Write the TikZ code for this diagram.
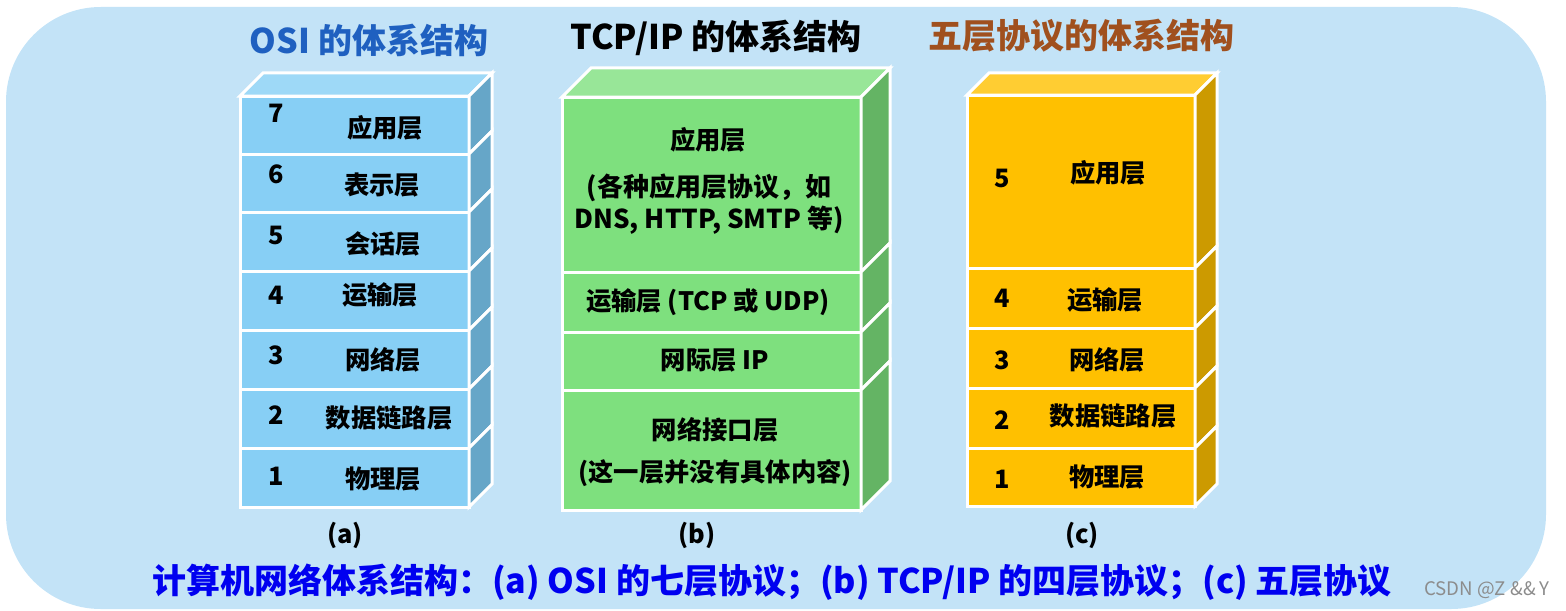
\documentclass[tikz,border=0pt]{standalone}
\usepackage{fontspec}
\newfontfamily\cjk{Noto Sans CJK SC}
\definecolor{bgblue}{RGB}{195,227,247}
\definecolor{osifront}{RGB}{135,207,245}
\definecolor{osiside}{RGB}{102,166,200}
\definecolor{ositop}{RGB}{158,217,247}
\definecolor{tcpfront}{RGB}{126,224,126}
\definecolor{tcpside}{RGB}{100,180,100}
\definecolor{tcptop}{RGB}{152,230,152}
\definecolor{fivefront}{RGB}{255,192,0}
\definecolor{fiveside}{RGB}{204,154,0}
\definecolor{fivetop}{RGB}{255,205,50}
\definecolor{ositext}{RGB}{31,96,192}
\definecolor{fivetext}{RGB}{160,80,30}
\definecolor{captext}{RGB}{0,0,240}
\tikzset{every picture/.style={line width=0.75pt}}
\tikzset{
  slab/.style={draw=white, line width=2.25pt, line join=miter},
  layertxt/.style={inner sep=0.75pt, font=\cjk\bfseries\fontsize{19}{24}\selectfont},
  titletxt/.style={inner sep=0.75pt, font=\cjk\bfseries\fontsize{25.5}{28}\selectfont},
  captxt/.style={inner sep=0.75pt, font=\cjk\bfseries\fontsize{25.5}{28}\selectfont, text=captext}
}
\begin{document}
\begin{tikzpicture}[x=0.75pt,y=0.75pt,yscale=-1,xscale=1]
\useasboundingbox (0,0) rectangle (1566,610);
%Rounded Rect [id:background]
\draw [fill=bgblue, draw=none, rounded corners=71pt] (6,7) rectangle (1546,609);

%Shape: OSI stack
\draw [slab, fill=ositop] (240,96) -- (263,73) -- (492,73) -- (469,96) -- cycle ;
\draw [slab, fill=osifront] (240,96) rectangle (469,154) ;
\draw [slab, fill=osiside] (469,96) -- (492,73) -- (492,131) -- (469,154) -- cycle ;
\draw [slab, fill=osifront] (240,154) rectangle (469,212) ;
\draw [slab, fill=osiside] (469,154) -- (492,131) -- (492,189) -- (469,212) -- cycle ;
\draw [slab, fill=osifront] (240,212) rectangle (469,271) ;
\draw [slab, fill=osiside] (469,212) -- (492,189) -- (492,248) -- (469,271) -- cycle ;
\draw [slab, fill=osifront] (240,271) rectangle (469,330) ;
\draw [slab, fill=osiside] (469,271) -- (492,248) -- (492,307) -- (469,330) -- cycle ;
\draw [slab, fill=osifront] (240,330) rectangle (469,389) ;
\draw [slab, fill=osiside] (469,330) -- (492,307) -- (492,366) -- (469,389) -- cycle ;
\draw [slab, fill=osifront] (240,389) rectangle (469,448) ;
\draw [slab, fill=osiside] (469,389) -- (492,366) -- (492,425) -- (469,448) -- cycle ;
\draw [slab, fill=osifront] (240,448) rectangle (469,507) ;
\draw [slab, fill=osiside] (469,448) -- (492,425) -- (492,484) -- (469,507) -- cycle ;

%Shape: TCP/IP stack
\draw [slab, fill=tcptop] (562,97) -- (591,68) -- (890,68) -- (861,97) -- cycle ;
\draw [slab, fill=tcpfront] (562,97) rectangle (861,272) ;
\draw [slab, fill=tcpside] (861,97) -- (890,68) -- (890,243) -- (861,272) -- cycle ;
\draw [slab, fill=tcpfront] (562,272) rectangle (861,332) ;
\draw [slab, fill=tcpside] (861,272) -- (890,243) -- (890,303) -- (861,332) -- cycle ;
\draw [slab, fill=tcpfront] (562,332) rectangle (861,390) ;
\draw [slab, fill=tcpside] (861,332) -- (890,303) -- (890,361) -- (861,390) -- cycle ;
\draw [slab, fill=tcpfront] (562,390) rectangle (861,510) ;
\draw [slab, fill=tcpside] (861,390) -- (890,361) -- (890,481) -- (861,510) -- cycle ;

%Shape: five layer stack
\draw [slab, fill=fivetop] (967,95) -- (989,73) -- (1217,73) -- (1195,95) -- cycle ;
\draw [slab, fill=fivefront] (967,95) rectangle (1195,268) ;
\draw [slab, fill=fiveside] (1195,95) -- (1217,73) -- (1217,246) -- (1195,268) -- cycle ;
\draw [slab, fill=fivefront] (967,268) rectangle (1195,328) ;
\draw [slab, fill=fiveside] (1195,268) -- (1217,246) -- (1217,306) -- (1195,328) -- cycle ;
\draw [slab, fill=fivefront] (967,328) rectangle (1195,388) ;
\draw [slab, fill=fiveside] (1195,328) -- (1217,306) -- (1217,366) -- (1195,388) -- cycle ;
\draw [slab, fill=fivefront] (967,388) rectangle (1195,448) ;
\draw [slab, fill=fiveside] (1195,388) -- (1217,366) -- (1217,426) -- (1195,448) -- cycle ;
\draw [slab, fill=fivefront] (967,448) rectangle (1195,506) ;
\draw [slab, fill=fiveside] (1195,448) -- (1217,426) -- (1217,484) -- (1195,506) -- cycle ;

% Text Node
\draw (369,40) node [titletxt, text=ositext] (osititle) {OSI 的体系结构};
% Text Node
\draw (716,38) node [titletxt] (tcptitle) {TCP/IP 的体系结构};
% Text Node
\draw (1081,36) node [titletxt, text=fivetext] (fivetitle) {五层协议的体系结构};

% Text Node
\draw (276,113) node [layertxt] (osin7) {7};
\draw (385,128) node [layertxt] (osi7) {应用层};
\draw (276,174) node [layertxt] (osin6) {6};
\draw (382,185) node [layertxt] (osi6) {表示层};
\draw (276,235) node [layertxt] (osin5) {5};
\draw (383,244) node [layertxt] (osi5) {会话层};
\draw (276,295) node [layertxt] (osin4) {4};
\draw (380,295) node [layertxt] (osi4) {运输层};
\draw (276,355) node [layertxt] (osin3) {3};
\draw (383,360) node [layertxt] (osi3) {网络层};
\draw (276,415) node [layertxt] (osin2) {2};
\draw (389,418) node [layertxt] (osi2) {数据链路层};
\draw (276,476) node [layertxt] (osin1) {1};
\draw (383,479) node [layertxt] (osi1) {物理层};

% Text Node
\draw (708,140) node [layertxt] (tcpapp) {应用层};
\draw (709,204) node [layertxt, align=center, font=\cjk\bfseries\fontsize{19.5}{24}\selectfont] (tcpappnote) {(各种应用层协议，如\\DNS, HTTP, SMTP 等)};
\draw (708,302) node [layertxt] (tcptrans) {运输层 (TCP 或 UDP)};
\draw (715,360) node [layertxt] (tcpnet) {网际层 IP};
\draw (715,430) node [layertxt] (tcplink) {网络接口层};
\draw (715,473) node [layertxt] (tcplinknote) {(这一层并没有具体内容)};

% Text Node
\draw (1002,178) node [layertxt] (fiven5) {5};
\draw (1108,173) node [layertxt] (five5) {应用层};
\draw (1002,298) node [layertxt] (fiven4) {4};
\draw (1105,300) node [layertxt] (five4) {运输层};
\draw (1002,360) node [layertxt] (fiven3) {3};
\draw (1107,360) node [layertxt] (five3) {网络层};
\draw (1002,420) node [layertxt] (fiven2) {2};
\draw (1113,416) node [layertxt] (five2) {数据链路层};
\draw (1002,479) node [layertxt] (fiven1) {1};
\draw (1107,477) node [layertxt] (five1) {物理层};

% Text Node
\draw (345,535) node [layertxt] (suba) {(a)};
\draw (697,535) node [layertxt] (subb) {(b)};
\draw (1082,535) node [layertxt] (subc) {(c)};

% Text Node
\draw (772,582) node [captxt] (caption) {计算机网络体系结构：(a) OSI 的七层协议；(b) TCP/IP 的四层协议；(c) 五层协议};
% Text Node
\draw (1487,590) node [inner sep=0.75pt, font=\cjk\fontsize{14}{16}\selectfont, text=black!45] (mark) {CSDN @Z \&\& Y};
\end{tikzpicture}
\end{document}
